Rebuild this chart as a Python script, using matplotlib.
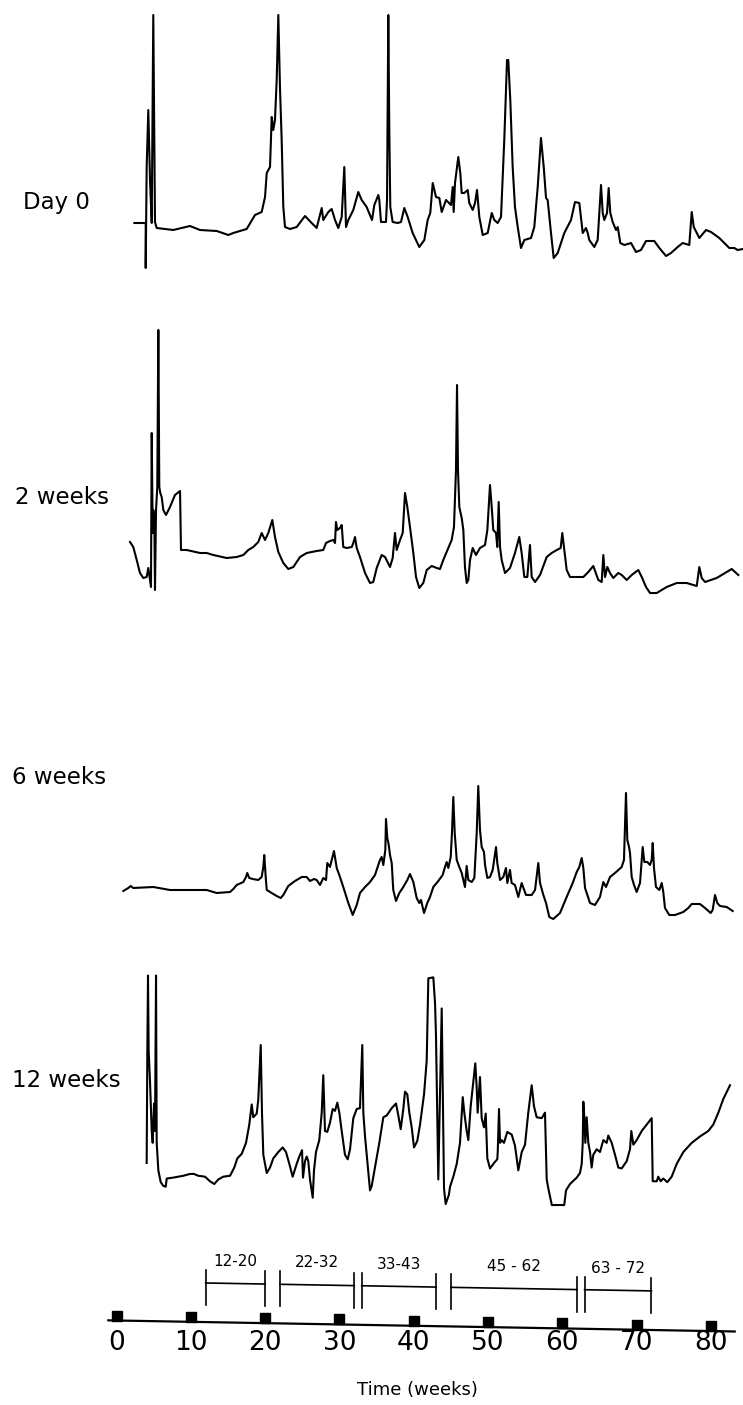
import matplotlib.pyplot as plt
import numpy as np

# elution profiles, x in weeks, y = detector response (arbitrary units)
day0 = np.array([
    (2.40, 57), (3.93, 57), (3.93, 12), (4.06, 113), (4.28, 170), (4.51, 100), (4.74, 57), (4.95, 265),
    (5.18, 58), (5.41, 52), (7.64, 50), (8.78, 52), (9.89, 54), (10.57, 52), (11.24, 50), (13.49, 49),
    (15.05, 45), (15.72, 47), (17.52, 51), (18.64, 65), (19.54, 68), (19.99, 83), (20.22, 107), (20.66, 113),
    (20.89, 163), (21.10, 150), (21.33, 160), (21.56, 200), (21.78, 265), (22.0, 193), (22.23, 140), (22.45, 73),
    (22.68, 53), (23.35, 51), (24.25, 53), (25.37, 64), (26.27, 57), (26.94, 52), (27.62, 72), (27.83, 60),
    (28.51, 68), (28.96, 71), (29.41, 60), (29.85, 52), (30.31, 63), (30.66, 113), (30.89, 53), (31.2, 60),
    (31.87, 70), (32.54, 88), (33.0, 80), (33.67, 73), (34.39, 60), (34.7, 75), (35.24, 85), (35.37, 80),
    (35.6, 58), (36.27, 58), (36.41, 80), (36.58, 265), (36.72, 147), (36.85, 73), (37.17, 58), (37.85, 57),
    (38.29, 58), (38.74, 72), (39.19, 63), (39.86, 47), (40.75, 33), (41.43, 40), (41.88, 60), (42.23, 67),
    (42.56, 97), (43.0, 83), (43.45, 82), (43.77, 68), (44.35, 80), (45.02, 75), (45.25, 93), (45.38, 68),
    (45.56, 97), (45.83, 113), (46.0, 123), (46.27, 107), (46.46, 87), (46.81, 87), (47.27, 90), (47.48, 77),
    (47.94, 70), (48.25, 77), (48.52, 90), (48.83, 63), (49.29, 45), (49.96, 47), (50.5, 67), (50.85, 60),
    (51.3, 57), (51.75, 63), (52.19, 140), (52.56, 220), (52.73, 220), (53.0, 180), (53.32, 113), (53.63, 73),
    (54.0, 53), (54.44, 32), (54.89, 40), (55.79, 42), (56.23, 53), (56.69, 93), (57.13, 142), (57.5, 113),
    (57.81, 82), (58.03, 80), (58.48, 47), (58.84, 22), (59.38, 27), (60.27, 47), (61.17, 60), (61.71, 78),
    (62.29, 77), (62.75, 47), (63.19, 52), (63.42, 47), (63.63, 40), (64.31, 33), (64.76, 40), (64.98, 67),
    (65.21, 95), (65.44, 67), (65.65, 60), (66.02, 67), (66.24, 92), (66.46, 67), (66.78, 58), (67.23, 50),
    (67.46, 53), (67.81, 37), (68.35, 35), (69.25, 37), (69.92, 28), (70.59, 30), (71.27, 39), (72.38, 39),
    (73.06, 32), (73.96, 24), (74.63, 27), (75.53, 33), (76.2, 37), (77.09, 35), (77.42, 68), (77.69, 53),
    (78.44, 42), (79.34, 50), (80.01, 48), (81.13, 42), (82.48, 32), (83.15, 32), (83.6, 30), (84.32, 31),
])

week2 = np.array([
    (1.82, 78), (2.26, 73), (2.72, 60), (3.16, 47), (3.61, 42), (4.06, 43), (4.28, 52), (4.51, 40),
    (4.64, 33), (4.74, 187), (4.87, 87), (4.95, 110), (5.09, 100), (5.18, 30), (5.32, 110), (5.49, 133),
    (5.63, 290), (5.76, 133), (5.89, 127), (6.08, 123), (6.3, 110), (6.66, 105), (7.2, 113), (7.87, 125),
    (8.55, 129), (8.68, 70), (9.45, 70), (11.24, 67), (12.14, 67), (13.03, 65), (14.83, 62), (16.18, 63),
    (17.07, 65), (17.74, 70), (18.41, 73), (19.08, 78), (19.54, 87), (19.99, 80), (20.43, 87), (20.97, 100),
    (21.33, 83), (21.78, 68), (22.45, 57), (23.12, 51), (23.8, 53), (24.7, 63), (25.6, 67), (26.94, 69),
    (27.83, 70), (28.2, 77), (28.73, 79), (29.18, 80), (29.41, 77), (29.54, 98), (29.72, 90), (30.08, 92),
    (30.31, 95), (30.52, 73), (30.98, 72), (31.66, 73), (31.87, 77), (32.1, 83), (32.33, 72), (32.77, 63),
    (33.45, 47), (34.12, 37), (34.56, 38), (35.02, 52), (35.69, 65), (36.14, 63), (36.81, 53), (37.17, 62),
    (37.48, 87), (37.71, 70), (38.16, 80), (38.52, 87), (38.83, 127), (39.14, 113), (39.5, 93), (39.95, 67),
    (40.31, 43), (40.75, 32), (41.29, 37), (41.75, 50), (42.42, 54), (43.1, 52), (43.54, 51), (43.98, 60),
    (44.66, 72), (45.11, 80), (45.42, 93), (45.69, 150), (45.83, 235), (45.96, 150), (46.14, 113), (46.46, 102),
    (46.68, 90), (46.9, 53), (47.13, 37), (47.35, 40), (47.58, 60), (47.94, 72), (48.38, 65), (48.92, 72),
    (49.6, 75), (49.91, 90), (50.27, 135), (50.5, 113), (50.71, 90), (51.08, 87), (51.25, 73), (51.44, 118),
    (51.62, 73), (51.84, 60), (52.29, 47), (52.96, 52), (53.63, 67), (54.21, 83), (54.53, 67), (54.89, 43),
    (55.29, 43), (55.65, 75), (55.88, 43), (56.33, 38), (57.0, 45), (57.9, 63), (58.57, 67), (59.25, 70),
    (59.78, 72), (60.0, 87), (60.27, 70), (60.59, 50), (61.04, 43), (61.94, 43), (62.83, 43), (63.5, 48),
    (64.17, 54), (64.85, 40), (65.3, 38), (65.52, 65), (65.75, 43), (66.06, 53), (66.42, 47), (66.86, 42),
    (67.54, 47), (68.0, 45), (68.67, 40), (69.34, 45), (70.23, 50), (70.69, 43), (71.27, 33), (71.8, 27),
    (72.71, 27), (74.05, 33), (75.4, 37), (76.74, 37), (78.09, 34), (78.44, 53), (78.76, 42), (79.21, 38),
    (80.78, 42), (81.9, 47), (82.8, 51), (83.24, 48), (83.69, 45),
])

week6 = np.array([
    (0.92, 49), (1.59, 52), (1.91, 54), (2.26, 52), (4.95, 53), (7.2, 50), (12.14, 50), (13.49, 47),
    (15.28, 48), (15.72, 51), (16.18, 55), (17.07, 58), (17.43, 63), (17.6, 67), (17.87, 62), (18.33, 61),
    (19.08, 60), (19.54, 63), (19.76, 73), (19.89, 85), (20.08, 63), (20.22, 50), (20.89, 47), (21.56, 44),
    (22.1, 42), (22.45, 45), (23.12, 54), (24.02, 59), (24.93, 63), (25.6, 63), (26.04, 59), (26.58, 61),
    (26.94, 60), (27.39, 55), (27.83, 62), (28.2, 60), (28.37, 77), (28.73, 73), (28.96, 80), (29.27, 89),
    (29.64, 72), (30.08, 63), (30.52, 53), (31.2, 37), (31.79, 25), (32.33, 35), (32.77, 47), (33.45, 53),
    (34.12, 58), (34.79, 65), (35.24, 75), (35.46, 80), (35.69, 83), (35.91, 75), (36.04, 82), (36.18, 90),
    (36.27, 121), (36.45, 102), (36.64, 95), (36.81, 85), (37.04, 77), (37.25, 50), (37.62, 39), (38.06, 47),
    (38.6, 53), (39.14, 60), (39.5, 66), (39.95, 58), (40.4, 42), (40.75, 37), (40.98, 40), (41.39, 27),
    (41.83, 37), (42.19, 43), (42.64, 53), (43.31, 59), (43.9, 65), (44.21, 73), (44.44, 78), (44.66, 72),
    (44.98, 83), (45.15, 107), (45.33, 143), (45.52, 107), (45.79, 80), (46.14, 73), (46.46, 67), (46.68, 60),
    (46.9, 53), (47.13, 74), (47.35, 60), (47.81, 58), (48.16, 62), (48.48, 107), (48.69, 154), (48.92, 110),
    (49.15, 93), (49.46, 88), (49.6, 75), (49.91, 62), (50.27, 63), (50.63, 70), (51.08, 93), (51.25, 77),
    (51.62, 60), (52.06, 63), (52.42, 72), (52.6, 57), (52.96, 70), (53.18, 57), (53.63, 55), (54.08, 43),
    (54.53, 57), (55.11, 45), (55.88, 45), (56.33, 50), (56.77, 77), (57.0, 57), (57.45, 45), (57.81, 37),
    (58.25, 23), (58.79, 21), (59.69, 27), (60.59, 43), (61.4, 57), (61.94, 68), (62.29, 73), (62.61, 82),
    (62.83, 72), (63.06, 52), (63.73, 37), (64.4, 35), (65.07, 43), (65.52, 58), (65.88, 53), (66.42, 63),
    (67.09, 67), (67.54, 70), (67.99, 73), (68.3, 80), (68.57, 147), (68.75, 100), (68.98, 93), (69.11, 87),
    (69.34, 63), (69.65, 55), (70.01, 48), (70.46, 57), (70.82, 93), (71.04, 78), (71.44, 78), (71.8, 75),
    (72.03, 80), (72.17, 97), (72.34, 72), (72.61, 53), (73.06, 50), (73.38, 57), (73.59, 48), (73.82, 32),
    (74.4, 25), (75.17, 25), (76.28, 28), (76.96, 32), (77.42, 36), (78.53, 36), (79.21, 32), (79.97, 27),
    (80.24, 30), (80.55, 45), (80.86, 37), (81.22, 34), (82.13, 33), (82.93, 29),
])

week12 = np.array([
    (4.06, 58), (4.15, 183), (4.24, 263), (4.33, 180), (4.51, 147), (4.74, 93), (4.87, 80), (5.05, 123),
    (5.18, 93), (5.32, 263), (5.41, 80), (5.63, 50), (5.95, 37), (6.3, 33), (6.62, 32), (6.76, 41),
    (7.64, 42), (8.99, 44), (9.89, 46), (10.43, 46), (11.01, 44), (11.91, 43), (12.58, 38), (13.16, 35),
    (13.7, 40), (14.37, 43), (15.28, 44), (15.85, 53), (16.26, 63), (16.85, 68), (17.43, 80), (17.87, 100),
    (18.2, 122), (18.41, 108), (18.87, 112), (19.08, 127), (19.41, 187), (19.58, 113), (19.76, 67), (20.22, 47),
    (20.66, 53), (21.1, 63), (21.78, 70), (22.37, 75), (22.81, 70), (23.26, 57), (23.71, 43), (24.25, 57),
    (24.6, 65), (24.97, 72), (25.1, 42), (25.37, 60), (25.6, 65), (25.81, 60), (26.04, 40), (26.41, 20),
    (26.58, 50), (26.85, 70), (27.29, 83), (27.62, 113), (27.83, 154), (28.06, 93), (28.37, 92), (28.73, 102),
    (29.1, 117), (29.41, 115), (29.72, 124), (29.99, 113), (30.31, 93), (30.75, 67), (31.12, 62), (31.43, 73),
    (31.87, 107), (32.33, 117), (32.77, 118), (33.08, 187), (33.22, 113), (33.45, 87), (34.12, 28), (34.35, 33),
    (34.79, 53), (35.37, 80), (35.91, 108), (36.37, 110), (37.04, 118), (37.62, 123), (37.93, 110), (38.25, 95),
    (38.6, 117), (38.83, 136), (39.14, 133), (39.41, 113), (39.73, 97), (40.04, 75), (40.48, 82), (40.85, 100),
    (41.39, 133), (41.75, 170), (41.97, 260), (42.64, 261), (42.87, 233), (43.0, 197), (43.31, 40), (43.77, 227),
    (44.08, 30), (44.3, 13), (44.73, 23), (44.89, 32), (45.33, 43), (45.79, 57), (46.23, 80), (46.6, 130),
    (46.81, 113), (47.13, 93), (47.35, 83), (47.67, 120), (48.02, 147), (48.29, 167), (48.48, 140), (48.61, 113),
    (48.92, 152), (49.15, 107), (49.46, 97), (49.69, 112), (49.91, 63), (50.27, 52), (50.81, 58), (51.25, 62),
    (51.31, 70), (51.48, 117), (51.62, 80), (51.84, 83), (52.15, 80), (52.6, 92), (53.19, 89), (53.63, 77),
    (54.08, 50), (54.54, 70), (54.98, 78), (55.42, 113), (55.88, 143), (56.19, 120), (56.55, 108), (57.23, 107),
    (57.67, 113), (57.9, 40), (58.12, 30), (58.59, 12), (60.26, 12), (60.5, 28), (61.04, 35), (61.94, 42),
    (62.38, 47), (62.61, 57), (62.75, 80), (62.83, 125), (62.97, 107), (63.1, 80), (63.28, 108), (63.5, 80),
    (63.73, 70), (63.95, 53), (64.17, 67), (64.63, 73), (65.07, 70), (65.52, 83), (65.97, 80), (66.19, 88),
    (66.65, 80), (67.09, 67), (67.54, 53), (67.99, 52), (68.67, 60), (69.11, 73), (69.29, 93), (69.56, 78),
    (70.01, 83), (70.69, 93), (71.36, 100), (72.03, 107), (72.17, 38), (72.71, 38), (72.92, 43), (73.24, 38),
    (73.59, 41), (74.13, 37), (74.72, 43), (75.4, 57), (76.29, 70), (77.42, 80), (78.53, 87), (79.65, 93),
    (80.32, 100), (81.0, 113), (81.67, 128), (82.57, 143),
])

sample_labels = ['Day 0', '2 weeks', '6 weeks', '12 weeks']
week_ticks = [0, 10, 20, 30, 40, 50, 60, 70, 80]
pools = [(12, 20), (22, 32), (33, 43), (45, 62), (63, 72)]
pool_labels = ['12-20', '22-32', '33-43', '45 - 62', '63 - 72']

W, H = 743, 1405
fig = plt.figure(figsize=(W / 100, H / 100), dpi=100)
XLIM = (-15.68, 84.32)


def strip(top, bottom, span=None):
    # one horizontal band of the page; span = response range shown in it
    ax = fig.add_axes([0, 1 - bottom / H, 1, (bottom - top) / H])
    ax.set_xlim(XLIM)
    ax.set_ylim(0, span if span else bottom - top)
    ax.axis('off')
    return ax


# (band top, band bottom, response span, label x, label y)
layout = [
    (0, 280, 280, -12.6, 78),
    (300, 620, 320, -13.7, 123),
    (760, 940, 180, -14.1, 162),
    (960, 1216, 280, -14.1, 148),
]
for trace, name, (top, bot, span, lx, ly) in zip([day0, week2, week6, week12], sample_labels, layout):
    ax = strip(top, bot, span)
    ax.plot(trace[:, 0], trace[:, 1], color='black', lw=1.5)
    ax.text(lx, ly, name, ha='left', va='center', fontsize=16.5)

# time axis with the pooled fractions
ax = strip(1240, 1405)


def base(w):
    # the drawn axis line drops slightly from left to right
    return 84.5 - 0.132 * np.asarray(w, dtype=float)


def bar(w):
    return 123.6 - 0.132 * np.asarray(w, dtype=float)


ax.plot([-1.1, 83.2], base([-1.1, 83.2]), color='black', lw=1.6)
ax.plot(week_ticks, base(week_ticks) + 5, 's', ms=7.5, color='black')
for w in week_ticks:
    ax.text(w, 62, str(w), ha='center', va='center', fontsize=19)

for (a, b), lab in zip(pools, pool_labels):
    ya, yb = bar(a), bar(b)
    ax.plot([a, b], [ya, yb], color='black', lw=1.2)
    ax.plot([a, a], [ya - 22, ya + 13], color='black', lw=1.2)
    ax.plot([b, b], [yb - 22, yb + 13], color='black', lw=1.2)
    ax.text((a + b) / 2, (ya + yb) / 2 + 22, lab, ha='center', va='center', fontsize=11)

ax.text(40.5, 15, 'Time (weeks)', ha='center', va='center', fontsize=13)

fig.savefig('out.png', dpi=100)
